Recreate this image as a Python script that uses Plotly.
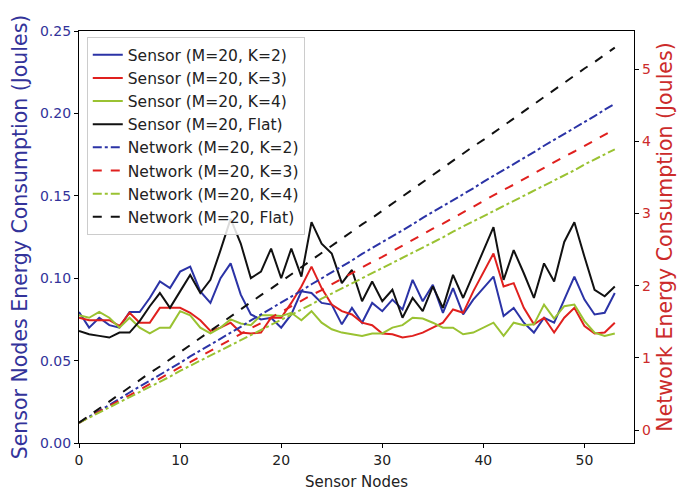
import plotly.graph_objects as go

nodes = list(range(54))

sensor_k2 = [0.0795, 0.070, 0.076, 0.0715, 0.070, 0.0795, 0.0795, 0.088, 0.098, 0.094,
             0.104, 0.107, 0.092, 0.085, 0.100, 0.109, 0.090, 0.078, 0.075, 0.076,
             0.070, 0.078, 0.092, 0.091, 0.085, 0.084, 0.072, 0.082, 0.073, 0.085,
             0.080, 0.087, 0.081, 0.099, 0.086, 0.096, 0.079, 0.094, 0.078, 0.087,
             0.094, 0.101, 0.077, 0.082, 0.073, 0.067, 0.076, 0.073, 0.087, 0.101,
             0.087, 0.078, 0.079, 0.091]
sensor_k3 = [0.076, 0.0745, 0.0745, 0.0745, 0.071, 0.079, 0.073, 0.073, 0.082, 0.082,
             0.082, 0.079, 0.0745, 0.068, 0.070, 0.073, 0.067, 0.0665, 0.067, 0.076,
             0.076, 0.085, 0.095, 0.107, 0.094, 0.084, 0.080, 0.078, 0.073, 0.0715,
             0.0665, 0.066, 0.064, 0.065, 0.067, 0.070, 0.073, 0.081, 0.079, 0.092,
             0.104, 0.115, 0.095, 0.097, 0.082, 0.072, 0.076, 0.067, 0.076, 0.082,
             0.071, 0.0665, 0.067, 0.073]
sensor_k4 = [0.0775, 0.076, 0.0795, 0.076, 0.070, 0.076, 0.070, 0.0665, 0.070, 0.070,
             0.080, 0.0775, 0.070, 0.0665, 0.070, 0.075, 0.0725, 0.0715, 0.0775, 0.0775,
             0.077, 0.079, 0.0745, 0.080, 0.073, 0.069, 0.067, 0.066, 0.065, 0.0665,
             0.0665, 0.070, 0.0715, 0.076, 0.0755, 0.073, 0.070, 0.070, 0.066, 0.067,
             0.070, 0.073, 0.065, 0.073, 0.0715, 0.072, 0.084, 0.0755, 0.083, 0.084,
             0.074, 0.067, 0.065, 0.0665]
sensor_flat = [0.068, 0.066, 0.065, 0.064, 0.067, 0.067, 0.074, 0.083, 0.091, 0.082,
               0.092, 0.102, 0.091, 0.099, 0.117, 0.136, 0.121, 0.100, 0.104, 0.118,
               0.100, 0.118, 0.101, 0.134, 0.121, 0.115, 0.097, 0.105, 0.086, 0.098,
               0.086, 0.093, 0.076, 0.088, 0.080, 0.095, 0.082, 0.102, 0.088, 0.102,
               0.117, 0.131, 0.099, 0.117, 0.103, 0.088, 0.109, 0.098, 0.122, 0.134,
               0.113, 0.093, 0.089, 0.095]

network_k2 = [0.10, 0.18, 0.27, 0.35, 0.43, 0.52, 0.60, 0.68, 0.77, 0.85,
              0.93, 1.02, 1.10, 1.18, 1.27, 1.35, 1.43, 1.52, 1.60, 1.68,
              1.77, 1.85, 1.93, 2.02, 2.10, 2.19, 2.27, 2.35, 2.44, 2.52,
              2.60, 2.69, 2.77, 2.85, 2.94, 3.02, 3.10, 3.19, 3.27, 3.35,
              3.44, 3.52, 3.60, 3.69, 3.77, 3.85, 3.94, 4.02, 4.10, 4.19,
              4.27, 4.35, 4.44, 4.52]
network_k3 = [0.10, 0.18, 0.25, 0.33, 0.41, 0.48, 0.56, 0.64, 0.71, 0.79,
              0.87, 0.94, 1.02, 1.10, 1.18, 1.25, 1.33, 1.41, 1.48, 1.56,
              1.64, 1.71, 1.79, 1.87, 1.94, 2.02, 2.10, 2.17, 2.25, 2.33,
              2.40, 2.48, 2.56, 2.63, 2.71, 2.79, 2.86, 2.94, 3.02, 3.10,
              3.17, 3.25, 3.33, 3.40, 3.48, 3.56, 3.63, 3.71, 3.79, 3.86,
              3.94, 4.02, 4.09, 4.17]
network_k4 = [0.10, 0.17, 0.24, 0.31, 0.39, 0.46, 0.53, 0.60, 0.67, 0.74,
              0.82, 0.89, 0.96, 1.03, 1.10, 1.17, 1.24, 1.32, 1.39, 1.46,
              1.53, 1.60, 1.67, 1.74, 1.82, 1.89, 1.96, 2.03, 2.10, 2.17,
              2.25, 2.32, 2.39, 2.46, 2.53, 2.60, 2.67, 2.75, 2.82, 2.89,
              2.96, 3.03, 3.10, 3.17, 3.25, 3.32, 3.39, 3.46, 3.53, 3.60,
              3.68, 3.75, 3.82, 3.89]
network_flat = [0.10, 0.20, 0.30, 0.39, 0.49, 0.59, 0.69, 0.79, 0.88, 0.98,
                1.08, 1.18, 1.28, 1.38, 1.47, 1.57, 1.67, 1.77, 1.87, 1.96,
                2.06, 2.16, 2.26, 2.36, 2.45, 2.55, 2.65, 2.75, 2.85, 2.94,
                3.04, 3.14, 3.24, 3.34, 3.44, 3.53, 3.63, 3.73, 3.83, 3.93,
                4.02, 4.12, 4.22, 4.32, 4.42, 4.51, 4.61, 4.71, 4.81, 4.91,
                5.01, 5.10, 5.20, 5.30]

BLUE = "#2b33a6"
RED = "#e0201e"
GREEN = "#9ac232"
BLACK = "#111111"
AX_BLUE = "#33339a"
AX_RED = "#cc2b2b"
FONT = "DejaVu Sans"

fig = go.Figure()

series = [
    ("Sensor (M=20, K=2)", sensor_k2, BLUE, "solid", "y"),
    ("Sensor (M=20, K=3)", sensor_k3, RED, "solid", "y"),
    ("Sensor (M=20, K=4)", sensor_k4, GREEN, "solid", "y"),
    ("Sensor (M=20, Flat)", sensor_flat, BLACK, "solid", "y"),
    ("Network (M=20, K=2)", network_k2, BLUE, "dashdot", "y2"),
    ("Network (M=20, K=3)", network_k3, RED, "dash", "y2"),
    ("Network (M=20, K=4)", network_k4, GREEN, "dashdot", "y2"),
    ("Network (M=20, Flat)", network_flat, BLACK, "dash", "y2"),
]

for name, vals, color, dash, ax in series:
    fig.add_trace(go.Scatter(
        x=nodes, y=vals, mode="lines", name=name, yaxis=ax,
        line=dict(color=color, width=2, dash=dash),
    ))

fig.update_layout(
    width=677, height=485,
    margin=dict(l=71, r=51, t=23, b=50),
    paper_bgcolor="white", plot_bgcolor="white",
    font=dict(family=FONT, size=14, color="#222222"),
    showlegend=True,
    legend=dict(
        x=0.014, y=0.985, xanchor="left", yanchor="top",
        bgcolor="rgba(255,255,255,0.85)", bordercolor="#cccccc", borderwidth=1,
        font=dict(family=FONT, size=15.5, color="#222222"),
    ),
    xaxis=dict(
        range=[0, 54.9], tickvals=[0, 10, 20, 30, 40, 50],
        showgrid=False, zeroline=False, automargin=False,
        showline=True, linecolor="black", linewidth=1.2, mirror=True,
        ticks="outside", ticklen=4, tickcolor="black",
        tickfont=dict(size=14, color="#222222"),
        title=dict(text="Sensor Nodes", font=dict(size=15, color="#222222"), standoff=9),
    ),
    yaxis=dict(
        range=[0, 0.25], tickvals=[0, 0.05, 0.10, 0.15, 0.20, 0.25],
        tickformat=".2f", automargin=False,
        showgrid=False, zeroline=False,
        showline=True, linecolor="black", linewidth=1.2,
        ticks="outside", ticklen=4, tickcolor="black",
        tickfont=dict(size=14, color=AX_BLUE),
        title=dict(text="Sensor Nodes Energy Consumption (Joules)",
                   font=dict(size=20.5, color=AX_BLUE), standoff=11),
    ),
    yaxis2=dict(
        range=[-0.18, 5.53], tickvals=[0, 1, 2, 3, 4, 5],
        overlaying="y", side="right", automargin=False,
        showgrid=False, zeroline=False,
        showline=True, linecolor="black", linewidth=1.2,
        ticks="outside", ticklen=4, tickcolor="black",
        tickfont=dict(size=14, color=AX_RED),
        title=dict(text="Network Energy Consumption (Joules)",
                   font=dict(size=20.5, color=AX_RED), standoff=7),
    ),
)

fig.write_html("out.html")
